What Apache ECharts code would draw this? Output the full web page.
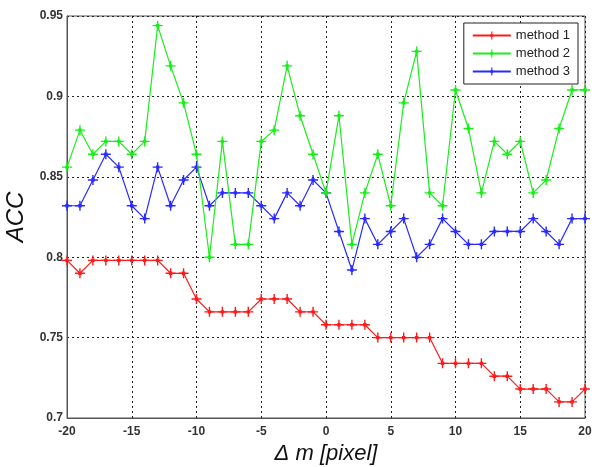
<!DOCTYPE html>
<html>
<head>
<meta charset="utf-8">
<script src="https://cdn.jsdelivr.net/npm/echarts@6/dist/echarts.min.js"></script>
<style>html,body{margin:0;padding:0;background:#fff}#c{width:600px;height:467px}</style>
</head>
<body>
<div id="c"></div>
<script>
const xValues = [-20,-19,-18,-17,-16,-15,-14,-13,-12,-11,-10,-9,-8,-7,-6,-5,-4,-3,-2,-1,0,1,2,3,4,5,6,7,8,9,10,11,12,13,14,15,16,17,18,19,20];
const method1 = [0.798,0.790,0.798,0.798,0.798,0.798,0.798,0.798,0.790,0.790,0.774,0.766,0.766,0.766,0.766,0.774,0.774,0.774,0.766,0.766,0.758,0.758,0.758,0.758,0.750,0.750,0.750,0.750,0.750,0.734,0.734,0.734,0.734,0.726,0.726,0.718,0.718,0.718,0.710,0.710,0.718];
const method2 = [0.856,0.879,0.864,0.872,0.872,0.864,0.872,0.944,0.919,0.896,0.864,0.800,0.872,0.808,0.808,0.872,0.879,0.919,0.888,0.864,0.840,0.888,0.808,0.840,0.864,0.832,0.896,0.928,0.840,0.832,0.904,0.880,0.840,0.872,0.864,0.872,0.840,0.848,0.880,0.904,0.904];
const method3 = [0.832,0.832,0.848,0.864,0.856,0.832,0.824,0.856,0.832,0.848,0.856,0.832,0.840,0.840,0.840,0.832,0.824,0.840,0.832,0.848,0.840,0.816,0.792,0.824,0.808,0.816,0.824,0.800,0.808,0.824,0.816,0.808,0.808,0.816,0.816,0.816,0.824,0.816,0.808,0.824,0.824];
const seriesNames = ['method 1','method 2','method 3'];
const seriesColors = ['#ff1a1a','#1aee1a','#2a2aff'];
const yTicks = [0.7,0.75,0.8,0.85,0.9,0.95];

const marker = 'path://M4.3,0H5.7V4.3H10V5.7H5.7V10H4.3V5.7H0V4.3H4.3Z M3.3,3.3H6.7V6.7H3.3Z';
const allData = [method1, method2, method3];
const chart = echarts.init(document.getElementById('c'), null, {renderer:'canvas'});
const gridStyle = {show:true, lineStyle:{color:'#222', type:[2,3], width:1}};
chart.setOption({
  animation:false,
  backgroundColor:'#fff',
  grid:{left:67, right:15, top:16, bottom:49, show:true, borderColor:'#555', borderWidth:1, containLabel:false, outerBoundsMode:'none'},
  legend:{
    data:seriesNames, orient:'vertical', right:22, top:23,
    itemWidth:38, itemHeight:10, itemGap:5,
    padding:[6,8,6,8],
    borderColor:'#222', borderWidth:1, backgroundColor:'#fff',
    textStyle:{fontFamily:'Liberation Sans, Arial', fontSize:13, color:'#222'}
  },
  xAxis:{
    type:'value', min:-20, max:20, interval:5,
    name:'\u0394 m [pixel]', nameLocation:'middle', nameGap:25,
    nameTextStyle:{fontFamily:'Liberation Sans, Arial', fontSize:22, fontStyle:'italic', color:'#111'},
    axisLine:{show:true, onZero:false, lineStyle:{color:'#555'}},
    axisTick:{show:false},
    axisLabel:{fontFamily:'Liberation Sans, Arial', fontSize:12, fontWeight:'bold', color:'#333', margin:8},
    splitLine:gridStyle
  },
  yAxis:{
    type:'value', min:0.7, max:0.95, interval:0.05,
    name:'ACC', nameLocation:'middle', nameGap:33, nameRotate:90,
    nameTextStyle:{fontFamily:'Liberation Sans, Arial', fontSize:24, fontStyle:'italic', color:'#111'},
    axisLine:{show:true, onZero:false, lineStyle:{color:'#555'}},
    axisTick:{show:false},
    axisLabel:{fontFamily:'Liberation Sans, Arial', fontSize:12, fontWeight:'bold', color:'#333', margin:4,
      formatter:function(v){ return String(parseFloat(v.toFixed(2))); }},
    splitLine:gridStyle
  },
  series: seriesNames.map(function(n,i){
    return {
      name:n, type:'line',
      data: xValues.map(function(x,j){ return [x, allData[i][j]]; }),
      symbol:marker, symbolSize:10, showSymbol:true,
      lineStyle:{color:seriesColors[i], width:1.2},
      itemStyle:{color:seriesColors[i]},
      z: 3 - i
    };
  })
});
</script>
</body>
</html>
